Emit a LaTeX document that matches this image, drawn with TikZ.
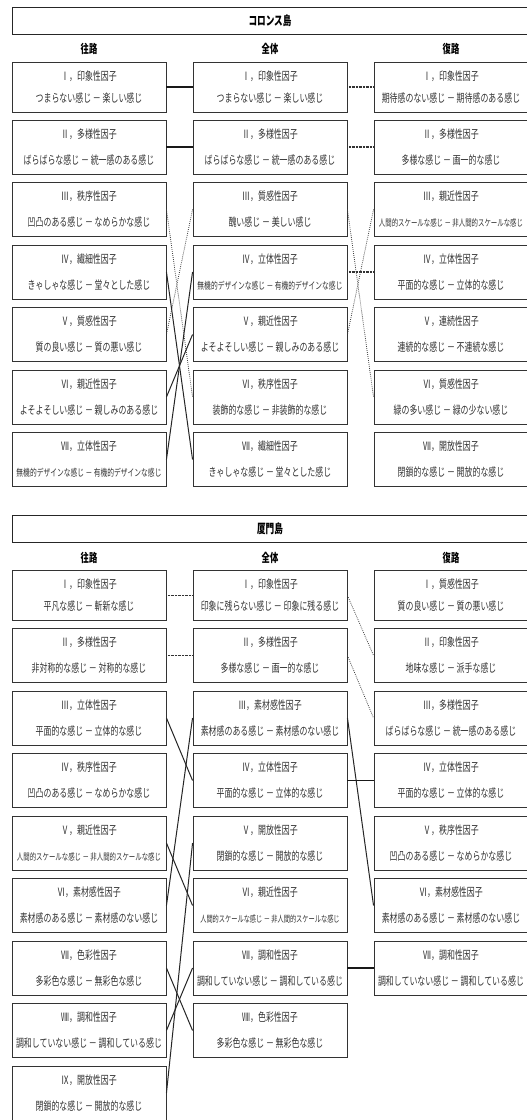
\documentclass[tikz,border=0pt]{standalone}
\usepackage{fontspec}
\setmainfont{Noto Sans CJK JP}
\usepackage{graphicx}
\newcommand\sx[1]{\scalebox{0.69}[1]{#1}}
\newcommand\tw[2]{\sx{#1}\\\sx{#2}}
\newcommand\tws[3]{\sx{#1}\\\scalebox{0.69}[1]{\fontsize{#3}{26}\selectfont #2}}
\begin{document}
\begin{tikzpicture}[x=1pt,y=-1pt,
 fac/.style={draw=black!80,line width=0.9pt,minimum width=154pt,minimum height=54pt,inner sep=0pt,align=center,text=black!80,font=\fontsize{11.5}{26}\selectfont},
 facA/.style={fac,minimum height=50pt,font=\fontsize{11.5}{22}\selectfont},
 ttl/.style={draw=black!85,line width=0.9pt,minimum width=516pt,minimum height=27pt,inner sep=0pt,font=\fontsize{12.5}{14}\selectfont\bfseries},
 hdr/.style={inner sep=0pt,font=\fontsize{12}{14}\selectfont\bfseries},
 sol/.style={line width=1pt,black!85},
 solH/.style={line width=1.6pt,black!90},
 dotH/.style={line width=1.2pt,black!80,dash pattern=on 0.8pt off 0.6pt},
 dotD/.style={line width=0.8pt,black!75,dash pattern=on 0.8pt off 1.2pt}]
\useasboundingbox (0,0) rectangle (527,1120);
\clip (0,0) rectangle (527,1120);
\fill[white] (0,0) rectangle (527,1120);

% ===== Section 1 =====
\node[ttl] (t1) at (270,20.5) {\sx{コロンス島}};
\node[hdr] (h1l) at (89,49) {\sx{往路}};
\node[hdr] (h1m) at (270,49) {\sx{全体}};
\node[hdr] (h1r) at (451,49) {\sx{復路}};

\node[facA] (aL1) at (89,87) {\tw{Ⅰ，印象性因子}{つまらない感じ － 楽しい感じ}};
\node[fac] (aL2) at (89,147) {\tw{Ⅱ，多様性因子}{ばらばらな感じ － 統一感のある感じ}};
\node[fac] (aL3) at (89,209.5) {\tw{Ⅲ，秩序性因子}{凹凸のある感じ － なめらかな感じ}};
\node[fac] (aL4) at (89,272) {\tw{Ⅳ，繊細性因子}{きゃしゃな感じ － 堂々とした感じ}};
\node[fac] (aL5) at (89,334.5) {\tw{Ⅴ，質感性因子}{質の良い感じ － 質の悪い感じ}};
\node[fac] (aL6) at (89,397) {\tw{Ⅵ，親近性因子}{よそよそしい感じ － 親しみのある感じ}};
\node[fac] (aL7) at (89,459.5) {\tws{Ⅶ，立体性因子}{無機的デザインな感じ － 有機的デザインな感じ}{9.8}};

\node[facA] (aM1) at (270,87) {\tw{Ⅰ，印象性因子}{つまらない感じ － 楽しい感じ}};
\node[fac] (aM2) at (270,147) {\tw{Ⅱ，多様性因子}{ばらばらな感じ － 統一感のある感じ}};
\node[fac] (aM3) at (270,209.5) {\tw{Ⅲ，質感性因子}{醜い感じ － 美しい感じ}};
\node[fac] (aM4) at (270,272) {\tws{Ⅳ，立体性因子}{無機的デザインな感じ － 有機的デザインな感じ}{9.8}};
\node[fac] (aM5) at (270,334.5) {\tw{Ⅴ，親近性因子}{よそよそしい感じ － 親しみのある感じ}};
\node[fac] (aM6) at (270,397) {\tw{Ⅵ，秩序性因子}{装飾的な感じ － 非装飾的な感じ}};
\node[fac] (aM7) at (270,459.5) {\tw{Ⅶ，繊細性因子}{きゃしゃな感じ － 堂々とした感じ}};

\node[facA] (aR1) at (451,87) {\tw{Ⅰ，印象性因子}{期待感のない感じ － 期待感のある感じ}};
\node[fac] (aR2) at (451,147) {\tw{Ⅱ，多様性因子}{多様な感じ － 画一的な感じ}};
\node[fac] (aR3) at (451,209.5) {\tws{Ⅲ，親近性因子}{人間的スケールな感じ － 非人間的スケールな感じ}{9.3}};
\node[fac] (aR4) at (451,272) {\tw{Ⅳ，立体性因子}{平面的な感じ － 立体的な感じ}};
\node[fac] (aR5) at (451,334.5) {\tw{Ⅴ，連続性因子}{連続的な感じ － 不連続な感じ}};
\node[fac] (aR6) at (451,397) {\tw{Ⅵ，質感性因子}{緑の多い感じ － 緑の少ない感じ}};
\node[fac] (aR7) at (451,459.5) {\tw{Ⅶ，開放性因子}{閉鎖的な感じ － 開放的な感じ}};

\draw[solH] (aL1.east) -- (aM1.west);
\draw[solH] (aL2.east) -- (aM2.west);
\draw[dotH] (aM1.east) -- (aR1.west);
\draw[dotH] (aM2.east) -- (aR2.west);
\draw[dotH] (aM4.east) -- (aR4.west);
\draw[dotD] (aL3.east) -- (aM6.west);
\draw[dotD] (aM3.west) -- (aL5.east);
\draw[dotD] (aM3.east) -- (aR6.west);
\draw[dotD] (aR3.west) -- (aM5.east);
\draw[sol] (aL4.east) -- (aM7.west);
\draw[sol] (aM4.west) -- (aL7.east);
\draw[sol] (aM5.west) -- (aL6.east);

% ===== Section 2 =====
\node[ttl] (t2) at (270,529) {\sx{厦門島}};
\node[hdr] (h2l) at (89,557.5) {\sx{往路}};
\node[hdr] (h2m) at (270,557.5) {\sx{全体}};
\node[hdr] (h2r) at (451,557.5) {\sx{復路}};

\node[facA] (bL1) at (89,595.5) {\tw{Ⅰ，印象性因子}{平凡な感じ － 斬新な感じ}};
\node[fac] (bL2) at (89,655.5) {\tw{Ⅱ，多様性因子}{非対称的な感じ － 対称的な感じ}};
\node[fac] (bL3) at (89,718) {\tw{Ⅲ，立体性因子}{平面的な感じ － 立体的な感じ}};
\node[fac] (bL4) at (89,780.5) {\tw{Ⅳ，秩序性因子}{凹凸のある感じ － なめらかな感じ}};
\node[fac] (bL5) at (89,843) {\tws{Ⅴ，親近性因子}{人間的スケールな感じ － 非人間的スケールな感じ}{9.3}};
\node[fac] (bL6) at (89,905.5) {\tw{Ⅵ，素材感性因子}{素材感のある感じ － 素材感のない感じ}};
\node[fac] (bL7) at (89,968) {\tw{Ⅶ，色彩性因子}{多彩色な感じ － 無彩色な感じ}};
\node[fac] (bL8) at (89,1030.5) {\tw{Ⅷ，調和性因子}{調和していない感じ － 調和している感じ}};
\node[fac] (bL9) at (89,1093) {\tw{Ⅸ，開放性因子}{閉鎖的な感じ － 開放的な感じ}};

\node[facA] (bM1) at (270,595.5) {\tw{Ⅰ，印象性因子}{印象に残らない感じ － 印象に残る感じ}};
\node[fac] (bM2) at (270,655.5) {\tw{Ⅱ，多様性因子}{多様な感じ － 画一的な感じ}};
\node[fac] (bM3) at (270,718) {\tw{Ⅲ，素材感性因子}{素材感のある感じ － 素材感のない感じ}};
\node[fac] (bM4) at (270,780.5) {\tw{Ⅳ，立体性因子}{平面的な感じ － 立体的な感じ}};
\node[fac] (bM5) at (270,843) {\tw{Ⅴ，開放性因子}{閉鎖的な感じ － 開放的な感じ}};
\node[fac] (bM6) at (270,905.5) {\tws{Ⅵ，親近性因子}{人間的スケールな感じ － 非人間的スケールな感じ}{9}};
\node[fac] (bM7) at (270,968) {\tw{Ⅶ，調和性因子}{調和していない感じ － 調和している感じ}};
\node[fac] (bM8) at (270,1030.5) {\tw{Ⅷ，色彩性因子}{多彩色な感じ － 無彩色な感じ}};

\node[facA] (bR1) at (451,595.5) {\tw{Ⅰ，質感性因子}{質の良い感じ － 質の悪い感じ}};
\node[fac] (bR2) at (451,655.5) {\tw{Ⅱ，印象性因子}{地味な感じ － 派手な感じ}};
\node[fac] (bR3) at (451,718) {\tw{Ⅲ，多様性因子}{ばらばらな感じ － 統一感のある感じ}};
\node[fac] (bR4) at (451,780.5) {\tw{Ⅳ，立体性因子}{平面的な感じ － 立体的な感じ}};
\node[fac] (bR5) at (451,843) {\tw{Ⅴ，秩序性因子}{凹凸のある感じ － なめらかな感じ}};
\node[fac] (bR6) at (451,905.5) {\tw{Ⅵ，素材感性因子}{素材感のある感じ － 素材感のない感じ}};
\node[fac] (bR7) at (451,968) {\tw{Ⅶ，調和性因子}{調和していない感じ － 調和している感じ}};

\draw[dotH] (bL1.east) -- (bM1.west);
\draw[dotH] (bL2.east) -- (bM2.west);
\draw[dotD] (bM1.east) -- (bR2.west);
\draw[dotD] (bM2.east) -- (bR3.west);
\draw[solH] (bM4.east) -- (bR4.west);
\draw[solH] (bM7.east) -- (bR7.west);
\draw[sol] (bL3.east) -- (bM4.west);
\draw[sol] (bM3.west) -- (bL6.east);
\draw[sol] (bL5.east) -- (bM6.west);
\draw[sol] (bM5.west) -- (bL9.east);
\draw[sol] (bL7.east) -- (bM8.west);
\draw[sol] (bM7.west) -- (bL8.east);
\draw[sol] (bM3.east) -- (bR6.west);
\end{tikzpicture}
\end{document}
